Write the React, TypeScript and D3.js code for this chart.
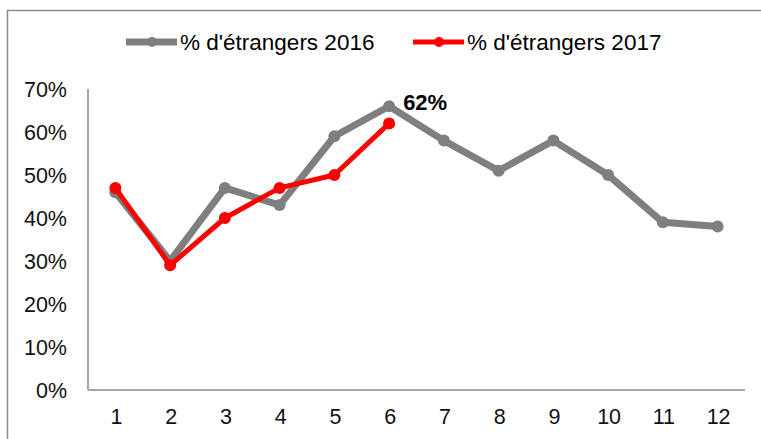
import * as d3 from "d3";

const months = ["1", "2", "3", "4", "5", "6", "7", "8", "9", "10", "11", "12"];
const values2016 = [0.46, 0.30, 0.47, 0.43, 0.59, 0.66, 0.58, 0.51, 0.58, 0.50, 0.39, 0.38];
const values2017 = [0.47, 0.29, 0.40, 0.47, 0.50, 0.62];
const yTicks = [0, 0.1, 0.2, 0.3, 0.4, 0.5, 0.6, 0.7];
const seriesNames = ["% d'étrangers 2016", "% d'étrangers 2017"];
const labelText = "62%";

const W = 761;
const H = 439;
const GRAY = "#7f7f7f";
const RED = "#ff0000";
const FONT = "'Liberation Sans', Arial, sans-serif";

export default function App() {
  const x = d3.scaleBand<string>().domain(months).range([88, 745]);
  const y = d3.scaleLinear().domain([0, 0.7]).range([390, 89]);
  const cx = (i: number) => (x(months[i]) ?? 0) + x.bandwidth() / 2;

  const line = d3
    .line<number>()
    .x((_, i) => cx(i))
    .y((d) => y(d));

  const series = [
    { name: seriesNames[0], values: values2016, color: GRAY, width: 7 },
    { name: seriesNames[1], values: values2017, color: RED, width: 5 },
  ];

  const legendX = [126, 413];

  return (
    <svg
      width={W}
      height={H}
      style={{ position: "absolute", left: 0, top: 0, background: "#fff" }}
      fontFamily={FONT}
    >
      {/* frame */}
      <path d={`M7.5,${H} V10.5 H${W}`} fill="none" stroke="#8c8c8c" strokeWidth={1.5} />

      {/* legend */}
      {series.map((s, i) => (
        <g key={s.name} transform={`translate(${legendX[i]},42)`}>
          <line x1={0} x2={51} y1={0} y2={0} stroke={s.color} strokeWidth={s.width} />
          <circle cx={26} cy={0} r={5} fill={s.color} />
          <text x={54} y={0} dy="0.36em" fontSize={22.5} fill="#000">
            {s.name}
          </text>
        </g>
      ))}

      {/* axes */}
      <line x1={88} x2={88} y1={y(0.7)} y2={y(0)} stroke="#a6a6a6" strokeWidth={2} />
      <line x1={88} x2={745} y1={y(0)} y2={y(0)} stroke="#a6a6a6" strokeWidth={2} />

      {yTicks.map((t) => (
        <text
          key={t}
          x={67}
          y={y(t)}
          dy="0.36em"
          textAnchor="end"
          fontSize={21.5}
          fill="#111"
        >
          {d3.format(".0%")(t)}
        </text>
      ))}

      {months.map((m, i) => (
        <text key={m} x={cx(i) + 1} y={416} dy="0.36em" textAnchor="middle" fontSize={21.5} fill="#111">
          {m}
        </text>
      ))}

      {/* series */}
      {series.map((s) => (
        <g key={s.name}>
          <path d={line(s.values) ?? ""} fill="none" stroke={s.color} strokeWidth={s.width} strokeLinejoin="round" />
          {s.values.map((v, i) => (
            <circle key={i} cx={cx(i)} cy={y(v)} r={6} fill={s.color} />
          ))}
        </g>
      ))}

      <text x={cx(5) + 14} y={y(values2016[5]) - 4} dy="0.36em" fontSize={22} fontWeight="bold" fill="#000">
        {labelText}
      </text>
    </svg>
  );
}
